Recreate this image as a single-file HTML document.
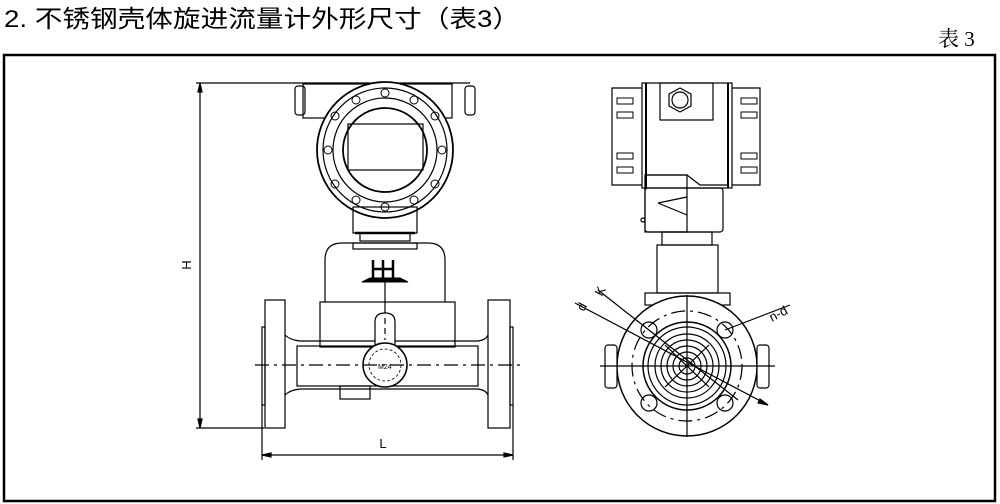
<!DOCTYPE html>
<html><head><meta charset="utf-8"><style>
html,body{margin:0;padding:0;background:#fff;}
svg{display:block}
</style></head><body>
<svg width="1000" height="504" viewBox="0 0 1000 504" xmlns="http://www.w3.org/2000/svg">
<text x="4" y="27" font-size="24" font-family="Liberation Sans, Noto Sans CJK SC, sans-serif" textLength="516" lengthAdjust="spacingAndGlyphs">2. 不锈钢壳体旋进流量计外形尺寸（表3）</text>
<text x="938" y="46" font-size="21" font-family="Liberation Serif, Noto Serif CJK SC, serif">表 3</text>
<rect x="4" y="55" width="991" height="446" fill="none" stroke="#000" stroke-width="2.5"/>
<g fill="none" stroke="#000" stroke-width="1.2">
<!-- LEFT DEVICE -->
<!-- H dim -->
<line x1="200" y1="83" x2="200" y2="428"/>
<line x1="196" y1="83" x2="470" y2="83"/>
<line x1="196" y1="428" x2="264" y2="428"/>
<path d="M200 83 l-2 9 h4z M200 428 l-2 -9 h4z" fill="#000"/>
<!-- L dim -->
<line x1="262" y1="455" x2="513" y2="455"/>
<line x1="262" y1="405" x2="262" y2="460"/>
<line x1="513" y1="405" x2="513" y2="460"/>
<path d="M262 455 l9 -2 v4z M513 455 l-9 -2 v4z" fill="#000"/>
<!-- top housing -->
<rect x="303" y="84" width="149" height="34"/>
<rect x="295" y="86" width="10" height="29" rx="3"/>
<rect x="465" y="86" width="10" height="29" rx="3"/>
<circle cx="385" cy="150" r="68" fill="#fff" stroke-width="1.8"/>
<circle cx="385" cy="150" r="62"/>
<circle cx="385" cy="150" r="52"/>
<circle cx="385" cy="150" r="42" stroke-width="1.8"/>
<rect x="348" y="124" width="75" height="46"/>
<g stroke-width="1">
<circle cx="385" cy="93" r="4"/><circle cx="385" cy="207" r="4"/>
<circle cx="356" cy="100" r="4"/><circle cx="414" cy="100" r="4"/>
<circle cx="356" cy="200" r="4"/><circle cx="414" cy="200" r="4"/>
<circle cx="335" cy="116" r="4"/><circle cx="435" cy="116" r="4"/>
<circle cx="335" cy="184" r="4"/><circle cx="435" cy="184" r="4"/>
<circle cx="328" cy="150" r="4"/><circle cx="442" cy="150" r="4"/>
</g>
<!-- neck -->
<rect x="353" y="207" width="64" height="26"/>
<rect x="360" y="233" width="50" height="8"/>
<line x1="355" y1="233" x2="415" y2="233" stroke-width="2.5"/>
<!-- dome -->
<path d="M325 302 V260 Q325 243 342 243 H428 Q445 243 445 260 V302"/>
<rect x="353" y="243" width="64" height="6"/>
<!-- logo -->
<g stroke-width="2.5"><line x1="373" y1="260" x2="373" y2="278"/><line x1="383" y1="260" x2="383" y2="278"/><line x1="393" y1="260" x2="393" y2="278"/><line x1="373" y1="269" x2="393" y2="269"/></g>
<path d="M362 282 L370 278 H400 L408 282 Z" fill="#000" stroke-width="1"/>
<line x1="385" y1="282" x2="385" y2="340"/>
<!-- lower block -->
<rect x="320" y="302" width="135" height="45"/>
<!-- pipe -->
<path d="M285 335 Q290 340 300 341 H478 Q486 340 488 335"/>
<path d="M285 395 Q290 390 300 389 H478 Q486 390 488 395"/>
<rect x="297" y="346" width="181" height="40"/>
<!-- flanges -->
<rect x="265" y="300" width="20" height="128" fill="#fff"/>
<rect x="262" y="327" width="3" height="78"/>
<rect x="488" y="300" width="22" height="128" fill="#fff"/>
<rect x="510" y="327" width="3" height="78"/>
<rect x="340" y="386" width="30" height="13"/>
<!-- stub + gauge -->
<path d="M375 347 V322 Q375 313 385 313 Q395 313 395 322 V347" fill="#fff"/>
<line x1="385" y1="318" x2="385" y2="340" stroke-dasharray="6 4"/>
<circle cx="385" cy="365" r="22" fill="#fff" stroke-width="1.5"/>
<circle cx="385" cy="365" r="16" stroke-width="0.8" stroke-dasharray="3 2"/>
<line x1="255" y1="365" x2="523" y2="365" stroke-dasharray="14 5 3 5"/>
<!-- RIGHT DEVICE -->
<rect x="642" y="83" width="90" height="105"/>
<line x1="646" y1="83" x2="646" y2="188" stroke-width="2"/>
<line x1="728" y1="83" x2="728" y2="188" stroke-width="2"/>
<path d="M642 88 H612 V185 H642"/>
<path d="M732 88 H760 V185 H732"/>
<g stroke-width="1">
<rect x="617" y="98" width="16" height="6"/><rect x="617" y="112" width="16" height="6"/><rect x="617" y="153" width="16" height="6"/><rect x="617" y="167" width="16" height="6"/>
<rect x="741" y="98" width="16" height="6"/><rect x="741" y="112" width="16" height="6"/><rect x="741" y="153" width="16" height="6"/><rect x="741" y="167" width="16" height="6"/>
</g>
<rect x="660" y="83" width="53" height="37"/>
<polygon points="680,88 691,94 691,106 680,112 669,106 669,94"/>
<circle cx="680" cy="100" r="8"/>
<path d="M645 175 H687 L700 185 H728 V188"/>
<rect x="645" y="175" width="42" height="57"/>
<rect x="645" y="188" width="78" height="44" rx="3"/>
<path d="M658 203 L687 197 M658 203 L687 215"/>
<circle cx="643" cy="220" r="2"/>
<rect x="662" y="232" width="50" height="13"/>
<rect x="657" y="245" width="61" height="48"/>
<rect x="645" y="293" width="85" height="12"/>
<circle cx="687" cy="366" r="70" fill="#fff" stroke-width="1.5"/>
<circle cx="687" cy="366" r="55" stroke-dasharray="14 5 3 5"/>
<rect x="605" y="345" width="12" height="43" rx="3" fill="#fff"/>
<rect x="757" y="345" width="12" height="43" rx="3" fill="#fff"/>
<circle cx="649" cy="330" r="8"/><circle cx="725" cy="330" r="8"/>
<circle cx="649" cy="403" r="8"/><circle cx="725" cy="403" r="8"/>
<circle cx="687" cy="366" r="44" stroke-width="1.5"/>
<circle cx="687" cy="366" r="39"/>
<circle cx="687" cy="366" r="32"/>
<circle cx="687" cy="366" r="26"/>
<circle cx="687" cy="366" r="20"/>
<circle cx="687" cy="366" r="14"/>
<circle cx="687" cy="366" r="8"/>
<line x1="600" y1="366" x2="775" y2="366"/>
<line x1="687" y1="295" x2="687" y2="437"/>
<line x1="665" y1="345" x2="709" y2="387"/><line x1="709" y1="345" x2="665" y2="387"/>
<!-- dims -->
<line x1="575" y1="303" x2="768" y2="405"/>
<line x1="598" y1="290" x2="738" y2="400"/>
<line x1="725" y1="330" x2="790" y2="305"/>
<path d="M768 405 l-8 -6 l-2 4z" fill="#000"/>
</g>
<g font-family="Liberation Sans, sans-serif" font-size="13" fill="#000">
<text transform="translate(191,265) rotate(-90)" text-anchor="middle">H</text>
<text x="383" y="448" text-anchor="middle">L</text>
<text transform="translate(584,312) rotate(-62)">d</text>
<text transform="translate(602,297) rotate(-62)">K</text>
<text transform="translate(772,322) rotate(-28)">n-d</text>
<text x="378" y="369" font-size="7">M24</text>
</g>
</svg>
</body></html>
